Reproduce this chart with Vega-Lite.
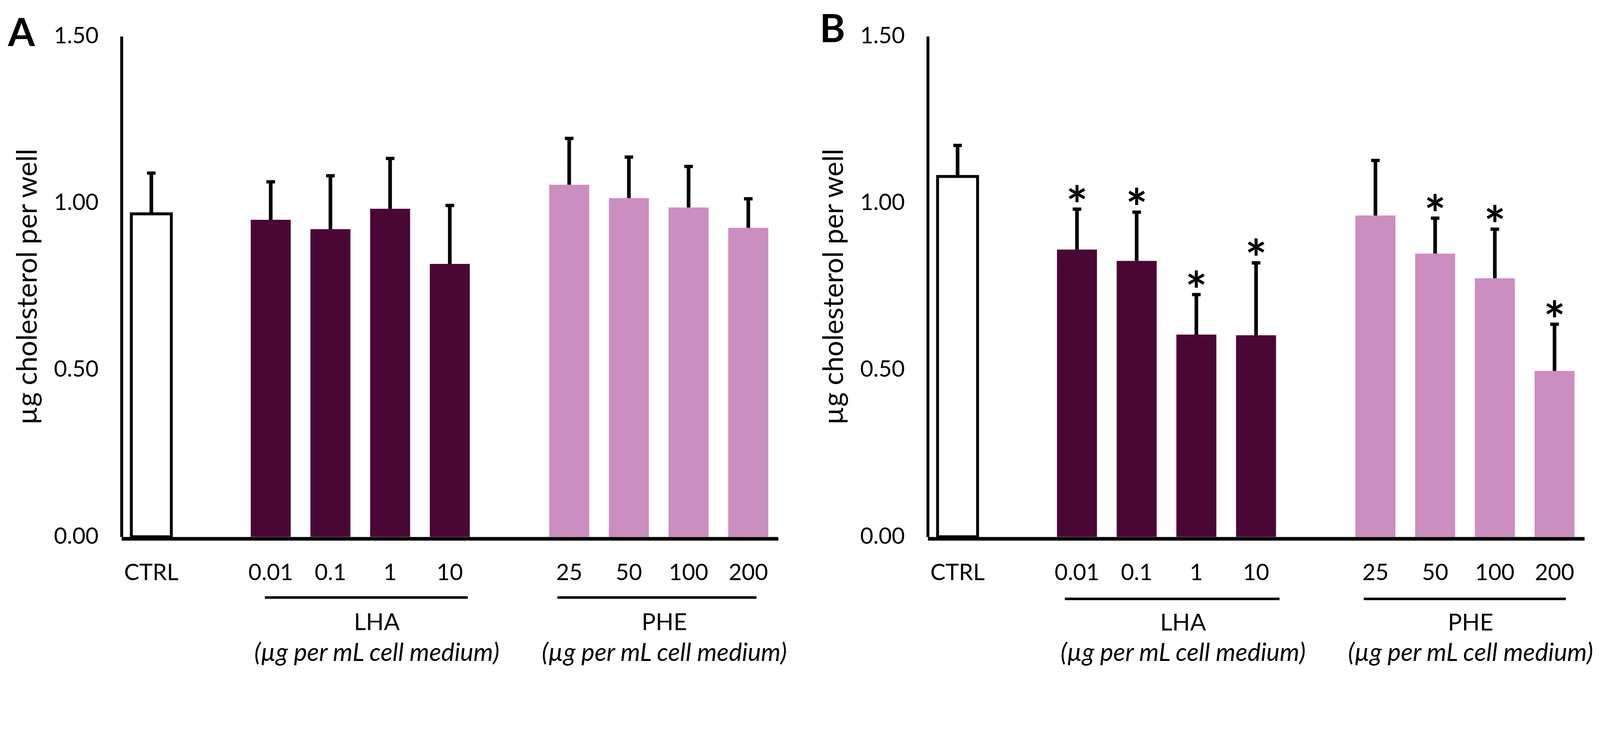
{
  "$schema": "https://vega.github.io/schema/vega-lite/v6.json",
  "background": "white",
  "autosize": {"type": "pad"},
  "padding": {"left": 20, "top": 29, "right": 4, "bottom": 31},
  "datasets": {
    "bars": [
      {"panel": "A", "dose": "CTRL", "group": "CTRL", "mean": 0.968, "upper": 1.090, "sig": false},
      {"panel": "A", "dose": "0.01", "group": "LHA", "mean": 0.950, "upper": 1.064, "sig": false},
      {"panel": "A", "dose": "0.1", "group": "LHA", "mean": 0.922, "upper": 1.082, "sig": false},
      {"panel": "A", "dose": "1", "group": "LHA", "mean": 0.983, "upper": 1.134, "sig": false},
      {"panel": "A", "dose": "10", "group": "LHA", "mean": 0.818, "upper": 0.993, "sig": false},
      {"panel": "A", "dose": "25", "group": "PHE", "mean": 1.055, "upper": 1.194, "sig": false},
      {"panel": "A", "dose": "50", "group": "PHE", "mean": 1.015, "upper": 1.138, "sig": false},
      {"panel": "A", "dose": "100", "group": "PHE", "mean": 0.987, "upper": 1.110, "sig": false},
      {"panel": "A", "dose": "200", "group": "PHE", "mean": 0.926, "upper": 1.013, "sig": false},
      {"panel": "B", "dose": "CTRL", "group": "CTRL", "mean": 1.080, "upper": 1.173, "sig": false},
      {"panel": "B", "dose": "0.01", "group": "LHA", "mean": 0.861, "upper": 0.982, "sig": true},
      {"panel": "B", "dose": "0.1", "group": "LHA", "mean": 0.827, "upper": 0.973, "sig": true},
      {"panel": "B", "dose": "1", "group": "LHA", "mean": 0.606, "upper": 0.726, "sig": true},
      {"panel": "B", "dose": "10", "group": "LHA", "mean": 0.604, "upper": 0.821, "sig": true},
      {"panel": "B", "dose": "25", "group": "PHE", "mean": 0.963, "upper": 1.128, "sig": false},
      {"panel": "B", "dose": "50", "group": "PHE", "mean": 0.849, "upper": 0.955, "sig": true},
      {"panel": "B", "dose": "100", "group": "PHE", "mean": 0.775, "upper": 0.922, "sig": true},
      {"panel": "B", "dose": "200", "group": "PHE", "mean": 0.497, "upper": 0.637, "sig": true}
    ],
    "groups": [
      {"group": "LHA", "first": "0.01", "last": "10", "mid": "1", "unit": "(µg per mL cell medium)"},
      {"group": "PHE", "first": "25", "last": "200", "mid": "100", "unit": "(µg per mL cell medium)"}
    ]
  },
  "spacing": 383,
  "bounds": "flush",
  "hconcat": [
    {
      "width": 1681,
      "height": 1282,
      "title": {"text": "A", "offset": -75, "dx": -16},
      "encoding": {
        "x": {"field": "dose", "type": "nominal", "title": null,
          "scale": {"domain": ["CTRL", " ", "0.01", "0.1", "1", "10", "  ", "25", "50", "100", "200"], "paddingInner": 0.33, "paddingOuter": 0.165},
          "axis": {"labelAngle": 0}},
        "y": {"type": "quantitative", "scale": {"domain": [0, 1.5], "nice": false, "zero": true},
          "axis": {"values": [0, 0.5, 1, 1.5], "format": ".2f", "title": "µg cholesterol per well"}}
      },
      "layer": [
        {
          "data": {"name": "bars"},
          "transform": [{"filter": "datum.panel === 'A'"}],
          "layer": [
            {"mark": {"type": "bar", "strokeWidth": 7.4},
             "encoding": {
               "y": {"field": "mean", "type": "quantitative"},
               "color": {"field": "group", "type": "nominal", "legend": null,
                 "scale": {"domain": ["CTRL", "LHA", "PHE"], "range": ["#ffffff", "#4a0736", "#cc8dc0"]}},
               "stroke": {"condition": {"test": "datum.group === 'CTRL'", "value": "#000000"}, "value": null}
             }},
            {"mark": {"type": "rule", "strokeWidth": 9.3, "color": "#000000"},
             "encoding": {"y": {"field": "mean", "type": "quantitative"}, "y2": {"field": "upper"}}},
            {"mark": {"type": "tick", "size": 22, "thickness": 8.4, "color": "#000000", "opacity": 1},
             "encoding": {"y": {"field": "upper", "type": "quantitative"}}}
          ]
        },
        {
          "data": {"name": "groups"},
          "transform": [{"filter": "datum.group === 'LHA'"}],
          "layer": [
            {"mark": {"type": "rule", "strokeWidth": 6.5, "color": "#000000", "xOffset": -15, "x2Offset": 46},
             "encoding": {"x": {"field": "first"}, "x2": {"field": "last"}, "y": {"datum": -0.182}}},
            {"mark": {"type": "text", "fontSize": 60, "dx": -34, "baseline": "alphabetic", "color": "#000000"},
             "encoding": {"x": {"field": "mid"}, "y": {"datum": -0.28}, "text": {"field": "group"}}},
            {"mark": {"type": "text", "fontSize": 64, "fontStyle": "italic", "dx": -34, "baseline": "alphabetic", "color": "#000000"},
             "encoding": {"x": {"field": "mid"}, "y": {"datum": -0.372}, "text": {"field": "unit"}}}
          ]
        },
        {
          "data": {"name": "groups"},
          "transform": [{"filter": "datum.group === 'PHE'"}],
          "layer": [
            {"mark": {"type": "rule", "strokeWidth": 6.5, "color": "#000000", "xOffset": -30, "x2Offset": 21},
             "encoding": {"x": {"field": "first"}, "x2": {"field": "last"}, "y": {"datum": -0.182}}},
            {"mark": {"type": "text", "fontSize": 60, "dx": -62, "baseline": "alphabetic", "color": "#000000"},
             "encoding": {"x": {"field": "mid"}, "y": {"datum": -0.28}, "text": {"field": "group"}}},
            {"mark": {"type": "text", "fontSize": 64, "fontStyle": "italic", "dx": -62, "baseline": "alphabetic", "color": "#000000"},
             "encoding": {"x": {"field": "mid"}, "y": {"datum": -0.372}, "text": {"field": "unit"}}}
          ]
        }
      ]
    },
    {
      "width": 1681,
      "height": 1282,
      "title": {"text": "B", "offset": -65, "dx": -2},
      "encoding": {
        "x": {"field": "dose", "type": "nominal", "title": null,
          "scale": {"domain": ["CTRL", " ", "0.01", "0.1", "1", "10", "  ", "25", "50", "100", "200"], "paddingInner": 0.33, "paddingOuter": 0.165},
          "axis": {"labelAngle": 0}},
        "y": {"type": "quantitative", "scale": {"domain": [0, 1.5], "nice": false, "zero": true},
          "axis": {"values": [0, 0.5, 1, 1.5], "format": ".2f", "title": "µg cholesterol per well"}}
      },
      "layer": [
        {
          "data": {"name": "bars"},
          "transform": [{"filter": "datum.panel === 'B'"}],
          "layer": [
            {"mark": {"type": "bar", "strokeWidth": 7.4},
             "encoding": {
               "y": {"field": "mean", "type": "quantitative"},
               "color": {"field": "group", "type": "nominal", "legend": null,
                 "scale": {"domain": ["CTRL", "LHA", "PHE"], "range": ["#ffffff", "#4a0736", "#cc8dc0"]}},
               "stroke": {"condition": {"test": "datum.group === 'CTRL'", "value": "#000000"}, "value": null}
             }},
            {"mark": {"type": "rule", "strokeWidth": 9.3, "color": "#000000"},
             "encoding": {"y": {"field": "mean", "type": "quantitative"}, "y2": {"field": "upper"}}},
            {"mark": {"type": "tick", "size": 22, "thickness": 8.4, "color": "#000000", "opacity": 1},
             "encoding": {"y": {"field": "upper", "type": "quantitative"}}},
            {"transform": [{"filter": "datum.sig"}],
             "mark": {"type": "text", "text": "*", "fontSize": 131, "fontWeight": "bold", "baseline": "alphabetic", "dy": 37, "color": "#000000"},
             "encoding": {"y": {"field": "upper", "type": "quantitative"}}}
          ]
        },
        {
          "data": {"name": "groups"},
          "transform": [{"filter": "datum.group === 'LHA'"}],
          "layer": [
            {"mark": {"type": "rule", "strokeWidth": 6.5, "color": "#000000", "xOffset": -31, "x2Offset": 60},
             "encoding": {"x": {"field": "first"}, "x2": {"field": "last"}, "y": {"datum": -0.186}}},
            {"mark": {"type": "text", "fontSize": 60, "dx": -34, "baseline": "alphabetic", "color": "#000000"},
             "encoding": {"x": {"field": "mid"}, "y": {"datum": -0.281}, "text": {"field": "group"}}},
            {"mark": {"type": "text", "fontSize": 64, "fontStyle": "italic", "dx": -34, "baseline": "alphabetic", "color": "#000000"},
             "encoding": {"x": {"field": "mid"}, "y": {"datum": -0.372}, "text": {"field": "unit"}}}
          ]
        },
        {
          "data": {"name": "groups"},
          "transform": [{"filter": "datum.group === 'PHE'"}],
          "layer": [
            {"mark": {"type": "rule", "strokeWidth": 6.5, "color": "#000000", "xOffset": -30, "x2Offset": 29},
             "encoding": {"x": {"field": "first"}, "x2": {"field": "last"}, "y": {"datum": -0.186}}},
            {"mark": {"type": "text", "fontSize": 60, "dx": -62, "baseline": "alphabetic", "color": "#000000"},
             "encoding": {"x": {"field": "mid"}, "y": {"datum": -0.281}, "text": {"field": "group"}}},
            {"mark": {"type": "text", "fontSize": 64, "fontStyle": "italic", "dx": -62, "baseline": "alphabetic", "color": "#000000"},
             "encoding": {"x": {"field": "mid"}, "y": {"datum": -0.372}, "text": {"field": "unit"}}}
          ]
        }
      ]
    }
  ],
  "config": {
    "font": "Lato",
    "view": {"stroke": null},
    "axis": {"ticks": false, "grid": false, "domainColor": "#000000", "labelColor": "#000000", "labelFont": "Lato", "labelFontSize": 58, "titleFont": "Lato", "titleFontSize": 71, "titleFontWeight": "normal", "titleColor": "#000000"},
    "axisX": {"domainWidth": 9.3, "offset": 4.6, "labelPadding": 60},
    "axisY": {"domainWidth": 7.4, "labelPadding": 59, "titlePadding": 29},
    "title": {"font": "Lato", "fontSize": 99, "fontWeight": "bold", "color": "#000000", "anchor": "start", "frame": "bounds"},
    "text": {"font": "Lato"}
  }
}
